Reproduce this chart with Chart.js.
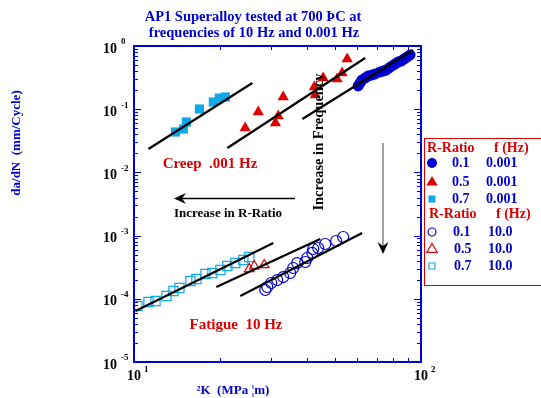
<!DOCTYPE html>
<html>
<head>
<meta charset="utf-8">
<script src="https://cdn.jsdelivr.net/npm/chart.js@4.4.1/dist/chart.umd.min.js"></script>
<style>
body { margin: 0; background: #fff; }
canvas { display: block; }
</style>
</head>
<body>
<canvas id="crackChart" width="541" height="398"></canvas>
<script>
// creep tests, 0.001 Hz  (dK in MPa sqrt(m), da/dN in mm/cycle)
var creepR01K = [60.4, 61.4, 62.3, 63.9, 65.4, 67.5, 69.2, 72.0, 73.8, 75.6, 77.4, 79.3, 81.2, 83.2, 85.2, 87.3, 89.4, 91.6];
var creepR01Rate = [0.233, 0.260, 0.290, 0.312, 0.335, 0.348, 0.361, 0.388, 0.402, 0.417, 0.449, 0.483, 0.519, 0.558, 0.579, 0.623, 0.670, 0.721];
var creepR05K = [24.4, 27.1, 31.1, 31.8, 33.1, 42.5, 42.8, 45.6, 51.0, 53.1, 55.3];
var creepR05Rate = [0.0504, 0.0903, 0.0605, 0.078, 0.156, 0.224, 0.168, 0.312, 0.301, 0.374, 0.623];
var creepR07K = [13.95, 14.87, 15.22, 16.90, 18.90, 19.83, 20.81];
var creepR07Rate = [0.0436, 0.0486, 0.0627, 0.1007, 0.130, 0.150, 0.156];

// fatigue tests, 10 Hz
var fatR01K = [28.67, 29.13, 30.08, 31.56, 33.11, 35.02, 35.87, 37.04, 39.51, 40.14, 41.79, 42.12, 43.84, 46.37, 50.62, 53.55];
var fatR01Rate = [1.377e-4, 1.538e-4, 1.778e-4, 1.98e-4, 2.21e-4, 2.56e-4, 3.07e-4, 3.68e-4, 3.82e-4, 4.42e-4, 5.31e-4, 6.14e-4, 6.37e-4, 7.37e-4, 8.22e-4, 9.51e-4];
var fatR05K = [25.22, 26.25, 28.44];
var fatR05Rate = [2.96e-4, 3.30e-4, 3.43e-4];
var fatR07K = [10.28, 11.23, 11.88, 12.97, 13.72, 14.40, 15.73, 16.50, 17.74, 18.75, 20.00, 21.15, 22.54, 24.04, 25.22];
var fatR07Rate = [7.69e-5, 8.89e-5, 9.23e-5, 1.107e-4, 1.327e-4, 1.482e-4, 1.914e-4, 2.057e-4, 2.467e-4, 2.559e-4, 2.856e-4, 3.304e-4, 3.68e-4, 4.11e-4, 4.58e-4];

// fit lines: [start, end]
var fitCreep07K = [11.23, 25.84], fitCreep07Rate = [0.0235, 0.260];
var fitCreep05K = [21.15, 63.9], fitCreep05Rate = [0.0243, 0.646];
var fitCreep01K = [38.6, 93.8], fitCreep01Rate = [0.070, 0.864];
var fitFat07K = [10.12, 30.57], fitFat07Rate = [6.41e-5, 7.64e-4];
var fitFat05K = [19.36, 44.55], fitFat05Rate = [1.538e-4, 8.83e-4];
var fitFat01K = [23.47, 62.34], fitFat01Rate = [1.107e-4, 1.10e-3];

// axis tick labels (powers of ten)
var yExponents = [0, -1, -2, -3, -4, -5];
var xExponents = [1, 2];

// legend
var legendRatios = ["0.1", "0.5", "0.7"];
var legendCreepFreq = "0.001";
var legendFatigueFreq = "10.0";

var BLUE = "#0000d0";
var RED = "#dd0000";
var CYAN = "#10a8e8";
var SERIF = '"Liberation Serif", "DejaVu Serif", serif';

function pts(xs, ys) {
    return xs.map(function(x, i) { return { x: x, y: ys[i] }; });
}

function markerSet(label, xs, ys, style, color, filled, radius) {
    return {
        label: label,
        data: pts(xs, ys),
        pointStyle: style,
        pointRadius: radius,
        pointBorderColor: color,
        pointBackgroundColor: filled ? color : "rgba(0,0,0,0)",
        pointBorderWidth: filled ? 0 : 1.2,
        showLine: false,
        order: 2
    };
}

function fitSet(xs, ys) {
    return {
        label: "fit",
        data: pts(xs, ys),
        showLine: true,
        borderColor: "#000",
        borderWidth: 2.2,
        pointRadius: 0,
        order: 1
    };
}

function drawMarker(ctx, style, x, y, r, color, filled) {
    ctx.save();
    ctx.beginPath();
    if (style === "circle") {
        ctx.arc(x, y, r, 0, Math.PI * 2);
    } else if (style === "triangle") {
        ctx.moveTo(x, y - r);
        ctx.lineTo(x + r * 0.95, y + r * 0.6);
        ctx.lineTo(x - r * 0.95, y + r * 0.6);
        ctx.closePath();
    } else {
        ctx.rect(x - r, y - r, r * 2, r * 2);
    }
    if (filled) {
        ctx.fillStyle = color;
        ctx.fill();
    } else {
        ctx.strokeStyle = color;
        ctx.lineWidth = 1.2;
        ctx.stroke();
    }
    ctx.restore();
}

var decorPlugin = {
    id: "decor",
    afterDatasetsDraw: function(chart) {
        var ctx = chart.ctx;
        var a = chart.chartArea;
        var xs = chart.scales.x, ys = chart.scales.y;
        ctx.save();

        // frame
        ctx.strokeStyle = BLUE;
        ctx.lineWidth = 2;
        ctx.strokeRect(a.left, a.top, a.right - a.left, a.bottom - a.top);

        // inward ticks
        ctx.lineWidth = 1;
        ctx.beginPath();
        for (var d = -5; d <= 0; d++) {
            for (var m = 1; m <= 9; m++) {
                if (d === 0 && m > 1) break;
                var py = Math.round(ys.getPixelForValue(m * Math.pow(10, d))) + 0.5;
                var len = m === 1 ? 7 : 4;
                ctx.moveTo(a.left, py); ctx.lineTo(a.left + len, py);
                ctx.moveTo(a.right, py); ctx.lineTo(a.right - len, py);
            }
        }
        for (var m2 = 1; m2 <= 10; m2++) {
            var px = Math.round(xs.getPixelForValue(m2 * 10)) + 0.5;
            var l2 = (m2 === 1 || m2 === 10) ? 7 : 4;
            ctx.moveTo(px, a.bottom); ctx.lineTo(px, a.bottom - l2);
            ctx.moveTo(px, a.top); ctx.lineTo(px, a.top + l2);
        }
        ctx.stroke();

        // tick labels
        ctx.fillStyle = "#000";
        ctx.textBaseline = "middle";
        yExponents.forEach(function(e) {
            var py = ys.getPixelForValue(Math.pow(10, e)) + 3;
            ctx.font = "bold 14px " + SERIF;
            ctx.textAlign = "right";
            ctx.fillText("10", 117, py);
            ctx.font = "bold 9px " + SERIF;
            ctx.textAlign = "left";
            ctx.fillText(e === 0 ? "0" : String(e), 121, py - 7);
        });
        xExponents.forEach(function(e) {
            var px = xs.getPixelForValue(Math.pow(10, e));
            ctx.font = "bold 14px " + SERIF;
            ctx.textAlign = "center";
            ctx.fillText("10", px, 376);
            ctx.font = "bold 9px " + SERIF;
            ctx.textAlign = "left";
            ctx.fillText(String(e), px + 10, 370);
        });

        // title
        ctx.fillStyle = BLUE;
        ctx.font = "bold 14.5px " + SERIF;
        ctx.textAlign = "center";
        ctx.fillText("AP1 Superalloy tested at 700 \u00DEC at", 253, 17);
        ctx.fillText("frequencies of 10 Hz and 0.001 Hz", 254, 33);

        // axis titles
        ctx.font = "bold 13px " + SERIF;
        ctx.fillText("\u00B2K  (MPa \u00A6m)", 233, 391);
        ctx.save();
        ctx.translate(17, 143);
        ctx.rotate(-Math.PI / 2);
        ctx.fillText("da/dN  (mm/Cycle)", 0, 0);
        ctx.restore();

        // annotations
        ctx.fillStyle = RED;
        ctx.font = "bold 15px " + SERIF;
        ctx.fillText("Creep  .001 Hz", 210, 164);
        ctx.fillText("Fatigue  10 Hz", 236, 325);

        ctx.fillStyle = "#000";
        ctx.font = "bold 13px " + SERIF;
        ctx.fillText("Increase in R-Ratio", 228, 214);
        ctx.save();
        ctx.translate(319, 142);
        ctx.rotate(-Math.PI / 2);
        ctx.font = "bold 14.5px " + SERIF;
        ctx.fillText("Increase in Frequency", 0, 0);
        ctx.restore();

        // horizontal arrow
        ctx.strokeStyle = "#000";
        ctx.lineWidth = 1.5;
        ctx.beginPath();
        ctx.moveTo(295, 198.5); ctx.lineTo(180, 198.5);
        ctx.stroke();
        ctx.fillStyle = "#000";
        ctx.beginPath();
        ctx.moveTo(174, 198.5); ctx.lineTo(186, 193); ctx.lineTo(182, 198.5); ctx.lineTo(186, 204);
        ctx.closePath();
        ctx.fill();

        // vertical arrow
        ctx.strokeStyle = "#808080";
        ctx.lineWidth = 1.5;
        ctx.beginPath();
        ctx.moveTo(383, 143); ctx.lineTo(383, 248);
        ctx.stroke();
        ctx.beginPath();
        ctx.moveTo(383, 254); ctx.lineTo(377.5, 242); ctx.lineTo(383, 246); ctx.lineTo(388.5, 242);
        ctx.closePath();
        ctx.fill();

        // legend box
        ctx.strokeStyle = RED;
        ctx.lineWidth = 1;
        ctx.strokeRect(424.5, 138.5, 130, 147);
        ctx.textAlign = "left";
        ctx.font = "bold 14px " + SERIF;
        ctx.fillStyle = RED;
        ctx.fillText("R-Ratio", 427, 148);
        ctx.fillText("f (Hz)", 494, 148);
        ctx.fillText("R-Ratio", 429, 214);
        ctx.fillText("f (Hz)", 496, 214);

        var styles = ["circle", "triangle", "rect"];
        var colors = [BLUE, RED, CYAN];
        var creepRows = [163, 182, 199];
        var fatRows = [232, 249, 266];
        ctx.fillStyle = BLUE;
        legendRatios.forEach(function(r, i) {
            drawMarker(ctx, styles[i], 432, creepRows[i], i === 0 ? 5 : (i === 1 ? 6 : 3.5), colors[i], true);
            ctx.fillStyle = BLUE;
            ctx.fillText(r, 452, creepRows[i]);
            ctx.fillText(legendCreepFreq, 486, creepRows[i]);
            drawMarker(ctx, styles[i], 432, fatRows[i], i === 0 ? 4 : (i === 1 ? 5.5 : 3), colors[i], false);
            ctx.fillStyle = BLUE;
            ctx.fillText(r, i === 0 ? 453 : 454, fatRows[i]);
            ctx.fillText(legendFatigueFreq, 488, fatRows[i]);
        });

        ctx.restore();
    }
};

var chartInstance = new Chart(document.getElementById("crackChart").getContext("2d"), {
    type: "scatter",
    data: {
        datasets: [
            fitSet(fitCreep07K, fitCreep07Rate),
            fitSet(fitCreep05K, fitCreep05Rate),
            fitSet(fitCreep01K, fitCreep01Rate),
            fitSet(fitFat07K, fitFat07Rate),
            fitSet(fitFat05K, fitFat05Rate),
            fitSet(fitFat01K, fitFat01Rate),
            markerSet("0.1 / 0.001", creepR01K, creepR01Rate, "circle", BLUE, true, 5.5),
            markerSet("0.5 / 0.001", creepR05K, creepR05Rate, "triangle", RED, true, 6.5),
            markerSet("0.7 / 0.001", creepR07K, creepR07Rate, "rect", CYAN, true, 6.5),
            markerSet("0.1 / 10.0", fatR01K, fatR01Rate, "circle", BLUE, false, 5.5),
            markerSet("0.5 / 10.0", fatR05K, fatR05Rate, "triangle", RED, false, 5.5),
            markerSet("0.7 / 10.0", fatR07K, fatR07Rate, "rect", CYAN, false, 6.5)
        ]
    },
    options: {
        responsive: false,
        animation: false,
        layout: { padding: { left: 134, top: 46, right: 120, bottom: 36 } },
        plugins: {
            legend: { display: false },
            tooltip: { enabled: false },
            title: { display: false }
        },
        scales: {
            x: { type: "logarithmic", min: 10, max: 100, display: false },
            y: { type: "logarithmic", min: 1e-5, max: 1, display: false }
        }
    },
    plugins: [decorPlugin]
});
</script>
</body>
</html>
